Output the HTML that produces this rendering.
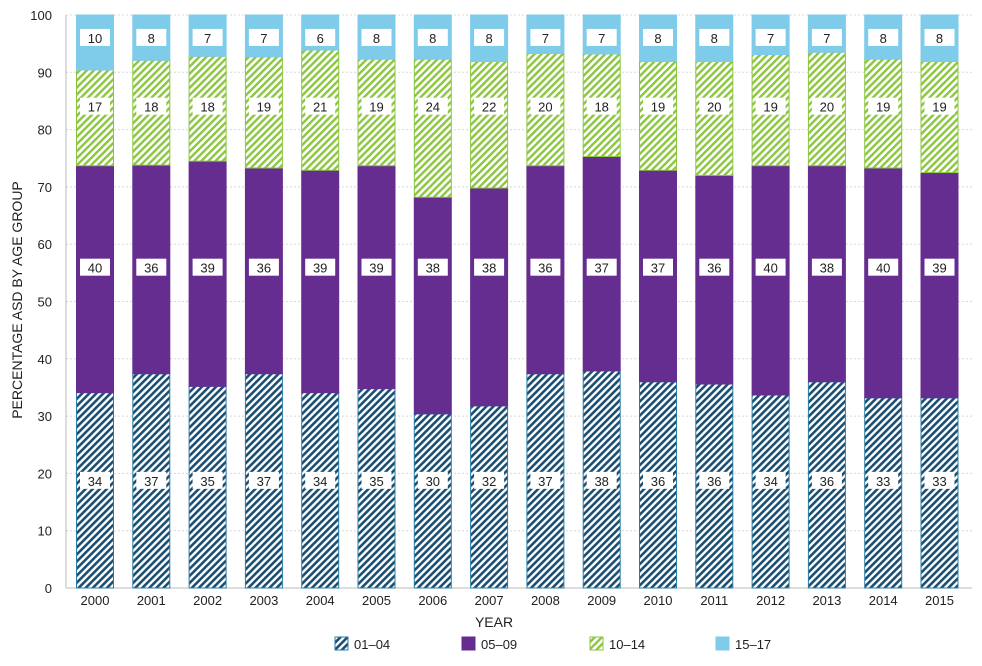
<!DOCTYPE html>
<html><head><meta charset="utf-8"><style>
body{margin:0;background:#fff;font-family:"Liberation Sans",sans-serif}
svg text{font-family:"Liberation Sans",sans-serif}
</style></head><body>
<svg id="c" width="982" height="661">
<defs>
<pattern id="pNavy" width="5" height="5" patternUnits="userSpaceOnUse" patternTransform="rotate(45)"><rect width="5" height="5" fill="#fff"/><rect width="2.6" height="5" fill="#1b4f72"/></pattern>
<pattern id="pGreen" width="5" height="5" patternUnits="userSpaceOnUse" patternTransform="rotate(45)"><rect width="5" height="5" fill="#fff"/><rect width="2.4" height="5" fill="#8cc63f"/></pattern>
</defs>
</svg>
<script>
const years=["2000","2001","2002","2003","2004","2005","2006","2007","2008","2009","2010","2011","2012","2013","2014","2015"];
const s0104=[34.1,37.4,35.2,37.4,34.1,34.8,30.4,31.8,37.4,37.9,36.0,35.6,33.7,36.0,33.2,33.2];
const s0509=[39.6,36.4,39.3,35.9,38.8,38.9,37.8,38.0,36.3,37.4,36.9,36.4,40.0,37.7,40.1,39.3];
const s1014=[16.7,18.3,18.3,19.4,21.0,18.6,24.1,22.1,19.6,17.9,19.0,19.9,19.4,19.8,19.0,19.4];
const s1517=[9.6,7.9,7.2,7.3,6.1,7.7,7.7,8.1,6.7,6.8,8.1,8.1,6.9,6.5,7.7,8.1];
const yTicks=[0,10,20,30,40,50,60,70,80,90,100];
const labelRows=[18.7,55.9,84,96];
const seriesNames=["01–04","05–09","10–14","15–17"];
const NS="http://www.w3.org/2000/svg",svg=document.getElementById('c');
const x0=66,x1=972,yb=588,yt=15;
const y=v=>yb-(v/100)*(yb-yt);
const step=56.3,bw=37;
const xc=i=>95+i*step;
function mk(t,a,p){const e=document.createElementNS(NS,t);for(const k in a)e.setAttribute(k,a[k]);(p||svg).appendChild(e);return e;}
yTicks.forEach(v=>{
  if(v>0){const g=mk('line',{x1:x0,x2:x1,y1:y(v),y2:y(v),stroke:'#d8d8d8','stroke-dasharray':'2,2'});
  
  }
  const t=mk('text',{x:52,y:y(v)+5,'text-anchor':'end','font-size':13,fill:'#222'});t.textContent=v;
  
  
});
const ax=mk('line',{x1:x0,x2:x0,y1:yt,y2:yb,stroke:'#bbb'});


const bx=mk('line',{x1:x0,x2:x1,y1:yb,y2:yb,stroke:'#bbb'});


const fills=[['url(#pNavy)','#2a7ea6'],['#662d91','#662d91'],['url(#pGreen)','#8cc63f'],['#7fcbea','#7fcbea']];
const series=[s0104,s0509,s1014,s1517];
years.forEach((yr,i)=>{
  let cum=0;
  series.forEach((s,k)=>{
    const v=s[i],top=cum+v;
    const r=mk('rect',{x:xc(i)-bw/2,y:y(top),width:bw,height:y(cum)-y(top),fill:fills[k][0],stroke:fills[k][1],'stroke-width':1});
    
    
    cum=top;
  });
  series.forEach((s,k)=>{
    const mid=y(labelRows[k]);
    const lb=mk('rect',{x:xc(i)-15,y:mid-9,width:30,height:17,fill:'#fff'});
    
    
    const t=mk('text',{x:xc(i),y:mid+5,'text-anchor':'middle','font-size':13,fill:'#222'});t.textContent=Math.round(s[i]);
    
    
  });
  const t=mk('text',{x:xc(i),y:605,'text-anchor':'middle','font-size':13,fill:'#222'});t.textContent=yr;
  
  
});
const xt=mk('text',{x:494,y:627,'text-anchor':'middle','font-size':14,fill:'#222'});xt.textContent='YEAR';


const yt2=mk('text',{x:0,y:0,'text-anchor':'middle','font-size':14,fill:'#222',transform:'translate(22,300) rotate(-90)'});yt2.textContent='PERCENTAGE ASD BY AGE GROUP';


const lx=[335,462,590,716];
seriesNames.forEach((n,k)=>{
  const r=mk('rect',{x:lx[k],y:637,width:13,height:13,fill:fills[k][0],stroke:fills[k][1]});
  
  
  const t=mk('text',{x:lx[k]+19,y:649,'font-size':13,fill:'#222'});t.textContent=n;
  
  
});
</script>
</body></html>
